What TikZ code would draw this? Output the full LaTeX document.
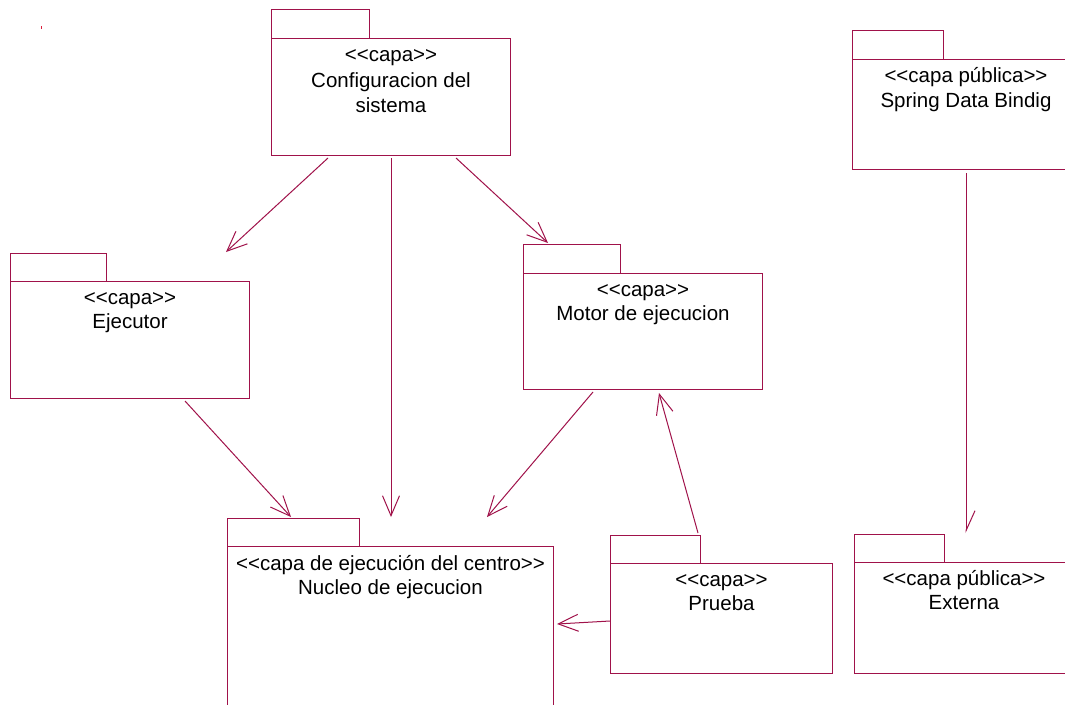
\documentclass[tikz,border=0pt]{standalone}
\usepackage{fontspec}
\setmainfont{Liberation Sans}[Ligatures=TeXOff]
\usetikzlibrary{arrows.meta,calc}
\definecolor{umlline}{RGB}{160,18,74}
\definecolor{dotred}{RGB}{220,30,60}
\begin{document}
\begin{tikzpicture}[x=1pt,y=-1pt,
  pkg/.style={draw=umlline, line width=1pt, rectangle, inner sep=0pt, anchor=north west},
  lbl/.style={anchor=base, inner sep=0pt, font=\fontsize{20.5}{24}\selectfont, text=black},
  dep/.style={draw=umlline, line width=1pt, -{Straight Barb[length=20pt,width=17pt]}},
  dephalf/.style={draw=umlline, line width=1pt, -{Straight Barb[length=20pt,width=18pt,harpoon]}}]
\clip (0,0) rectangle (1065,704);
\fill[white] (0,0) rectangle (1065,704);
\fill[dotred] (40.5,26) rectangle (42,28.5);

% Configuracion del sistema
\node[pkg, minimum width=98pt, minimum height=29pt] (cfgtab) at (271,9) {};
\node[pkg, minimum width=239pt, minimum height=117pt] (cfg) at (271,38) {};
\node[lbl] (cfgl1) at ($(cfg.north)+(0,23)$) {<<capa>>};
\node[lbl] (cfgl2) at ($(cfg.north)+(0,49)$) {Configuracion del};
\node[lbl] (cfgl3) at ($(cfg.north)+(0,74)$) {sistema};

% Spring Data Bindig
\node[pkg, minimum width=91pt, minimum height=29pt] (sprtab) at (852,30) {};
\node[pkg, minimum width=227pt, minimum height=110pt] (spr) at (852,59) {};
\node[lbl] (sprl1) at ($(spr.north)+(0,23)$) {<<capa pública>>};
\node[lbl] (sprl2) at ($(spr.north)+(0,48)$) {Spring Data Bindig};

% Ejecutor
\node[pkg, minimum width=96pt, minimum height=28pt] (ejetab) at (10,253) {};
\node[pkg, minimum width=239pt, minimum height=117pt] (eje) at (10,281) {};
\node[lbl] (ejel1) at ($(eje.north)+(0,23)$) {<<capa>>};
\node[lbl] (ejel2) at ($(eje.north)+(0,47)$) {Ejecutor};

% Motor de ejecucion
\node[pkg, minimum width=97pt, minimum height=29pt] (mottab) at (523,244) {};
\node[pkg, minimum width=239pt, minimum height=116pt] (mot) at (523,273) {};
\node[lbl] (motl1) at ($(mot.north)+(0,23)$) {<<capa>>};
\node[lbl] (motl2) at ($(mot.north)+(0,47)$) {Motor de ejecucion};

% Nucleo de ejecucion
\node[pkg, minimum width=132pt, minimum height=28pt] (nuctab) at (227,518) {};
\node[pkg, minimum width=326pt, minimum height=170pt] (nuc) at (227,546) {};
\node[lbl] (nucl1) at ($(nuc.north)+(0,24)$) {<<capa de ejecución del centro>>};
\node[lbl] (nucl2) at ($(nuc.north)+(0,48)$) {Nucleo de ejecucion};

% Prueba
\node[pkg, minimum width=90pt, minimum height=28pt] (prutab) at (610,535) {};
\node[pkg, minimum width=222pt, minimum height=110pt] (pru) at (610,563) {};
\node[lbl] (prul1) at ($(pru.north)+(0,23)$) {<<capa>>};
\node[lbl] (prul2) at ($(pru.north)+(0,47)$) {Prueba};

% Externa
\node[pkg, minimum width=90pt, minimum height=28pt] (exttab) at (854,534) {};
\node[pkg, minimum width=219pt, minimum height=111pt] (ext) at (854,562) {};
\node[lbl] (extl1) at ($(ext.north)+(0,23)$) {<<capa pública>>};
\node[lbl] (extl2) at ($(ext.north)+(0,47)$) {Externa};

% Dependencies
\draw[dep] ($(cfg.south west)+(57,2)$) -- ($(eje.north west)+(216,-29)$);
\draw[dep] ($(cfg.south west)+(120,2)$) -- ($(nuc.north west)+(164,-29)$);
\draw[dep] ($(cfg.south west)+(185,2)$) -- ($(mot.north west)+(25,-30)$);
\draw[dep] ($(eje.south west)+(175,2)$) -- ($(nuc.north west)+(64,-29)$);
\draw[dep] ($(mot.south west)+(70,2)$) -- ($(nuc.north west)+(260,-29)$);
\draw[dep] ($(prutab.north west)+(88,-2)$) -- ($(mot.south west)+(136,3)$);
\draw[dep] ($(pru.north west)+(0,58)$) -- ($(nuc.north east)+(3,78)$);
\draw[dephalf] ($(spr.south west)+(114,3)$) -- ($(exttab.north west)+(112,-1)$);
\end{tikzpicture}
\end{document}
